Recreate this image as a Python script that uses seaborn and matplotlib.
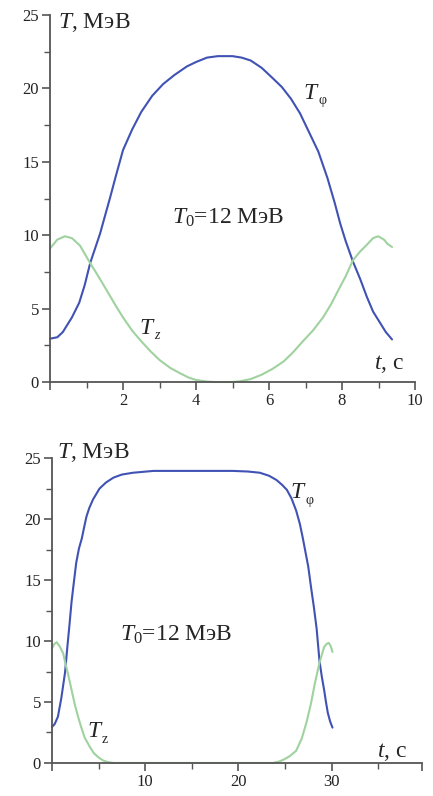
import matplotlib
matplotlib.use("Agg")
import matplotlib.pyplot as plt
from matplotlib.ticker import FixedLocator, NullFormatter
import pandas as pd
import seaborn as sns

# ---- short run (T0 = 12 MeV), upper panel ----
t_phi_a = [0.0, 0.2, 0.35, 0.45, 0.6, 0.8, 0.95, 1.1, 1.37, 1.65, 1.8, 2.0, 2.25,
           2.5, 2.8, 3.1, 3.4, 3.75, 4.0, 4.3, 4.6, 5.0, 5.25, 5.5, 5.8, 6.1,
           6.35, 6.6, 6.85, 7.1, 7.35, 7.6, 7.8, 7.95, 8.1, 8.3, 8.5, 8.68,
           8.85, 9.05, 9.2, 9.37]
T_phi_a = [2.95, 3.05, 3.4, 3.8, 4.4, 5.4, 6.6, 8.1, 10.1, 12.6, 14.0, 15.8, 17.2,
           18.4, 19.5, 20.3, 20.9, 21.5, 21.8, 22.1, 22.2, 22.2, 22.1, 21.9, 21.4,
           20.7, 20.1, 19.3, 18.3, 17.0, 15.7, 13.9, 12.2, 10.8, 9.6, 8.2, 7.0,
           5.8, 4.8, 4.0, 3.4, 2.9]
t_z_a = [0.0, 0.2, 0.41, 0.6, 0.82, 1.1, 1.3, 1.55, 1.8, 2.0, 2.25, 2.47, 2.75,
         3.0, 3.3, 3.56, 3.8, 4.0, 4.3, 4.5, 5.0, 5.2, 5.5, 5.8, 6.1, 6.4, 6.65,
         6.9, 7.2, 7.48, 7.7, 7.95, 8.1, 8.3, 8.5, 8.68, 8.85, 8.99, 9.15, 9.25,
         9.37]
T_z_a = [9.1, 9.7, 9.93, 9.8, 9.3, 8.1, 7.3, 6.26, 5.2, 4.4, 3.5, 2.86, 2.1,
         1.5, 0.95, 0.6, 0.3, 0.14, 0.03, 0.0, 0.0, 0.05, 0.2, 0.5, 0.9, 1.4, 2.0,
         2.7, 3.5, 4.4, 5.3, 6.5, 7.2, 8.3, 8.9, 9.35, 9.8, 9.93, 9.7, 9.4,
         9.2]

# ---- long run (T0 = 12 MeV), lower panel ----
t_phi_b = [0.0, 0.3, 0.64, 1.0, 1.4, 1.65, 1.9, 2.1, 2.3, 2.6, 2.9, 3.2, 3.5, 3.7,
           4.0, 4.4, 5.1, 5.8, 6.6, 7.5, 8.7, 10.9, 19.4, 21.0, 22.3, 23.3, 24.1,
           24.7, 25.2, 25.7, 26.2, 26.6, 26.9, 27.2, 27.5, 27.8, 28.1, 28.4, 28.7,
           28.95, 29.2, 29.4, 29.6, 29.85, 30.1]
T_phi_b = [2.95, 3.2, 3.8, 5.3, 7.4, 9.5, 11.5, 13.2, 14.5, 16.4, 17.6, 18.4, 19.5,
           20.2, 20.9, 21.6, 22.5, 23.0, 23.4, 23.65, 23.8, 23.95, 23.95, 23.9, 23.8,
           23.55, 23.2, 22.8, 22.4, 21.7, 20.7, 19.6, 18.5, 17.3, 16.1, 14.4, 12.8,
           11.0, 8.4, 7.1, 6.0, 5.0, 4.1, 3.4, 2.9]
t_z_b = [0.0, 0.25, 0.5, 0.8, 1.2, 1.4, 1.75, 2.1, 2.45, 2.8, 3.15, 3.5, 4.0, 4.5,
         5.0, 5.5, 6.0, 6.6, 23.7, 24.3, 24.8, 25.5, 26.2, 26.8, 27.3, 27.8, 28.2,
         28.7, 29.2, 29.45, 29.7, 29.9, 30.1]
T_z_b = [9.4, 9.75, 9.9, 9.6, 9.0, 8.3, 7.2, 6.0, 4.8, 3.8, 2.9, 2.1, 1.4, 0.8,
         0.45, 0.2, 0.07, 0.0, 0.0, 0.1, 0.25, 0.55, 1.0, 2.0, 3.3, 4.9, 6.5,
         8.2, 9.5, 9.75, 9.85, 9.6, 9.1]

y_ticks = [0, 5, 10, 15, 20, 25]
y_minor = [2.5, 7.5, 12.5, 17.5, 22.5]
x_ticks_a = [0, 2, 4, 6, 8, 10]
x_minor_a = [1, 3, 5, 7, 9]
x_ticks_b = [0, 10, 20, 30]
x_minor_b = [5, 15, 25, 35]

BLUE = "#4052b4"
GREEN = "#9fd29f"
AXIS = "#555555"

sns.set_style("white")
plt.rcParams["font.family"] = ["Liberation Serif", "DejaVu Serif"]
plt.rcParams["mathtext.fontset"] = "custom"
plt.rcParams["mathtext.rm"] = "Liberation Serif"
plt.rcParams["mathtext.it"] = "Liberation Serif:italic"


def frame(t_phi, T_phi, t_z, T_z):
    a = pd.DataFrame({"t": t_phi, "T": T_phi, "series": "phi"})
    b = pd.DataFrame({"t": t_z, "T": T_z, "series": "z"})
    return pd.concat([a, b], ignore_index=True)


def style_axes(ax, xmax, xt, xm, xlabels):
    ax.set_xlim(0, xmax)
    ax.set_ylim(0, 25)
    for s in ("top", "right"):
        ax.spines[s].set_visible(False)
    for s in ("left", "bottom"):
        ax.spines[s].set_color(AXIS)
        ax.spines[s].set_linewidth(1.3)
    ax.xaxis.set_major_locator(FixedLocator(xt))
    ax.xaxis.set_minor_locator(FixedLocator(xm))
    ax.set_xticklabels(xlabels)
    ax.xaxis.set_minor_formatter(NullFormatter())
    ax.yaxis.set_major_locator(FixedLocator(y_ticks))
    ax.yaxis.set_minor_locator(FixedLocator(y_minor))
    ax.tick_params(which="both", bottom=True, left=True)
    ax.tick_params(which="major", direction="out", length=6, width=1.2,
                   color=AXIS, labelsize=12, pad=2, labelcolor="#222222")
    ax.tick_params(which="minor", direction="out", length=4, width=1.0,
                   color=AXIS)
    ax.set_xlabel("")
    ax.set_ylabel("")


fig = plt.figure(figsize=(4.33, 7.96), dpi=100)
ax1 = fig.add_axes([0.1155, 0.5201, 0.843, 0.461])
ax2 = fig.add_axes([0.120, 0.0415, 0.8545, 0.383])

palette = {"phi": BLUE, "z": GREEN}

df_a = frame(t_phi_a, T_phi_a, t_z_a, T_z_a)
sns.lineplot(data=df_a, x="t", y="T", hue="series", palette=palette,
             estimator=None, legend=False, linewidth=1.5, ax=ax1)
style_axes(ax1, 10, x_ticks_a, x_minor_a, ["", "2", "4", "6", "8", "10"])

df_b = frame(t_phi_b, T_phi_b, t_z_b, T_z_b)
sns.lineplot(data=df_b, x="t", y="T", hue="series", palette=palette,
             estimator=None, legend=False, linewidth=1.5, ax=ax2)
style_axes(ax2, 39.7, x_ticks_b + [39.7], x_minor_b, ["", "10", "20", "30", ""])

big = 17
for ax in (ax1, ax2):
    for line in ax.get_lines():
        line.set_clip_on(False)


def sub_label(ax, x, y, sub, italic_sub):
    """Italic T with a small subscript beside it."""
    ax.text(x, y, "T", fontsize=big, style="italic", ha="left", va="baseline")
    ax.annotate(sub, xy=(x, y), xytext=(10.5, -4), textcoords="offset points",
                fontsize=10, style="italic" if italic_sub else "normal",
                ha="left", va="baseline")


# upper panel annotations
ax1.text(0.22, 24.5, "$T$, МэВ", fontsize=big, ha="left", va="center", clip_on=False)
sub_label(ax1, 6.95, 19.3, "φ", False)
ax1.text(4.88, 11.2, r"$T_{\mathrm{0}}$=12 МэВ", fontsize=big, ha="center", va="center")
sub_label(ax1, 2.45, 3.3, "z", True)
ax1.text(9.3, 1.2, "$t$, с", fontsize=big, ha="center", va="center")

# lower panel annotations
ax2.text(0.5, 25.5, "$T$, МэВ", fontsize=big, ha="left", va="center", clip_on=False)
sub_label(ax2, 25.6, 21.7, "φ", False)
ax2.text(13.3, 10.5, r"$T_{\mathrm{0}}$=12 МэВ", fontsize=big, ha="center", va="center")
sub_label(ax2, 3.8, 2.1, "z", False)
ax2.text(36.5, 0.9, "$t$, с", fontsize=big, ha="center", va="center")

fig.savefig("out.png", dpi=100)
